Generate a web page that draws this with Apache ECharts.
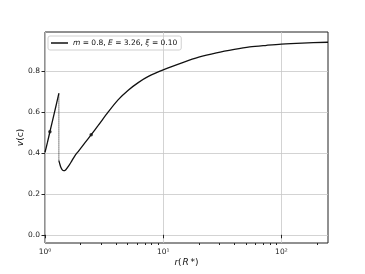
<!DOCTYPE html>
<html>
<head>
<meta charset="utf-8">
<script src="https://cdn.jsdelivr.net/npm/echarts@6/dist/echarts.min.js"></script>
<style>
  html, body { margin: 0; padding: 0; background: #fff; }
  #chart { width: 365px; height: 274px; }
</style>
</head>
<body>
<div id="chart"></div>
<script>
// inner branch (r from 1 up to the jump)
const innerR = [1.0, 1.05, 1.1, 1.2, 1.26, 1.31];
const innerV = [0.403, 0.452, 0.503, 0.595, 0.648, 0.69];
// outer branch (after the jump)
const outerR = [1.31, 1.34, 1.365, 1.4, 1.44, 1.5, 1.586, 1.69, 1.8, 1.93, 2.19, 2.46, 2.82, 3.43, 4.17, 5.06, 6.15, 7.5, 10, 14.8, 20, 28.2, 40, 54, 75, 100, 150, 248];
const outerV = [0.362, 0.342, 0.328, 0.317, 0.313, 0.318, 0.336, 0.362, 0.388, 0.41, 0.451, 0.489, 0.534, 0.6, 0.66, 0.706, 0.743, 0.773, 0.805, 0.842, 0.867, 0.888, 0.905, 0.917, 0.925, 0.931, 0.936, 0.94];
// dotted jump
const jumpR = [1.31, 1.31];
const jumpV = [0.69, 0.362];
// arrow markers
const markR = [1.1, 2.46];
const markV = [0.503, 0.489];

const xMajor = [1, 10, 100];
const xMinor = [2, 3, 4, 5, 6, 7, 8, 9, 20, 30, 40, 50, 60, 70, 80, 90, 200];
const yTicks = [0, 0.2, 0.4, 0.6, 0.8];

const zip = (a, b) => a.map((v, i) => [v, b[i]]);
const sup = { 0: '\u2070', 1: '\u00b9', 2: '\u00b2' };

const font = 'DejaVu Sans';
const ital = { fontStyle: 'italic', fontFamily: font, fontSize: 9, color: '#111' };
const chart = echarts.init(document.getElementById('chart'));

chart.setOption({
  animation: false,
  grid: {
    left: 45, right: 37, top: 32, bottom: 31,
    show: true, borderColor: '#222', borderWidth: 1,
  },
  legend: {
    data: ['main'],
    left: 48, top: 36,
    padding: [3, 4, 3, 3],
    itemWidth: 17, itemHeight: 1.5, itemGap: 4,
    icon: 'rect',
    borderColor: '#d0d0d0', borderWidth: 1, borderRadius: 2,
    formatter: () => '{i|m} = 0.8, {i|E} = 3.26, {i|\u03be} = 0.10',
    textStyle: {
      fontFamily: font, fontSize: 7.5, color: '#111',
      rich: { i: { fontStyle: 'italic', fontFamily: font, fontSize: 7.5, color: '#111' } },
    },
  },
  xAxis: [
    {
      type: 'log', logBase: 10, min: 1, max: 248,
      name: '{i|r}(\u200a{i|R}\u2009*)', nameLocation: 'middle', nameGap: 15,
      nameMoveOverlap: false,
      nameTextStyle: { fontFamily: font, fontSize: 9, color: '#111', rich: { i: ital } },
      axisLine: { show: false },
      axisTick: { customValues: xMajor, length: 3.5, lineStyle: { color: '#222' } },
      axisLabel: {
        customValues: xMajor, margin: 5,
        fontFamily: font, fontSize: 7.5, color: '#222',
        formatter: (v) => '10' + sup[Math.round(Math.log10(v))],
      },
      splitLine: { show: true, lineStyle: { color: '#c8c8c8', width: 0.8 } },
    },
    {
      type: 'log', logBase: 10, min: 1, max: 248, position: 'bottom',
      axisLine: { show: false },
      axisTick: { customValues: xMinor, length: 2, lineStyle: { color: '#222' } },
      axisLabel: { show: false },
      splitLine: { show: false },
    },
  ],
  yAxis: {
    type: 'value', min: -0.04, max: 0.99,
    name: '{i|v}(c)', nameLocation: 'middle', nameGap: 20,
    nameMoveOverlap: false,
    nameTextStyle: { fontFamily: font, fontSize: 9, color: '#111', rich: { i: ital } },
    axisLine: { show: false },
    axisTick: { customValues: yTicks, length: 3.5, lineStyle: { color: '#222' } },
    axisLabel: {
      customValues: yTicks, margin: 5,
      fontFamily: font, fontSize: 7.5, color: '#222',
      formatter: (v) => v.toFixed(1),
    },
    splitLine: { show: true, lineStyle: { color: '#c8c8c8', width: 0.8 } },
  },
  series: [
    {
      name: 'main', type: 'line', data: zip(innerR, innerV),
      smooth: 0.3, showSymbol: false, symbol: 'none',
      itemStyle: { color: '#111' },
      lineStyle: { color: '#111', width: 1.3 },
    },
    {
      name: 'main', type: 'line', data: zip(outerR, outerV),
      smooth: 0.3, showSymbol: false, symbol: 'none',
      itemStyle: { color: '#111' },
      lineStyle: { color: '#111', width: 1.3 },
    },
    {
      name: 'jump', type: 'line', data: zip(jumpR, jumpV),
      showSymbol: false, symbol: 'none',
      lineStyle: { color: '#111', width: 1, type: [1, 1] },
    },
    {
      name: 'marks', type: 'scatter', data: zip(markR, markV),
      symbolSize: 3.5, itemStyle: { color: '#111' },
    },
  ],
});
</script>
</body>
</html>
